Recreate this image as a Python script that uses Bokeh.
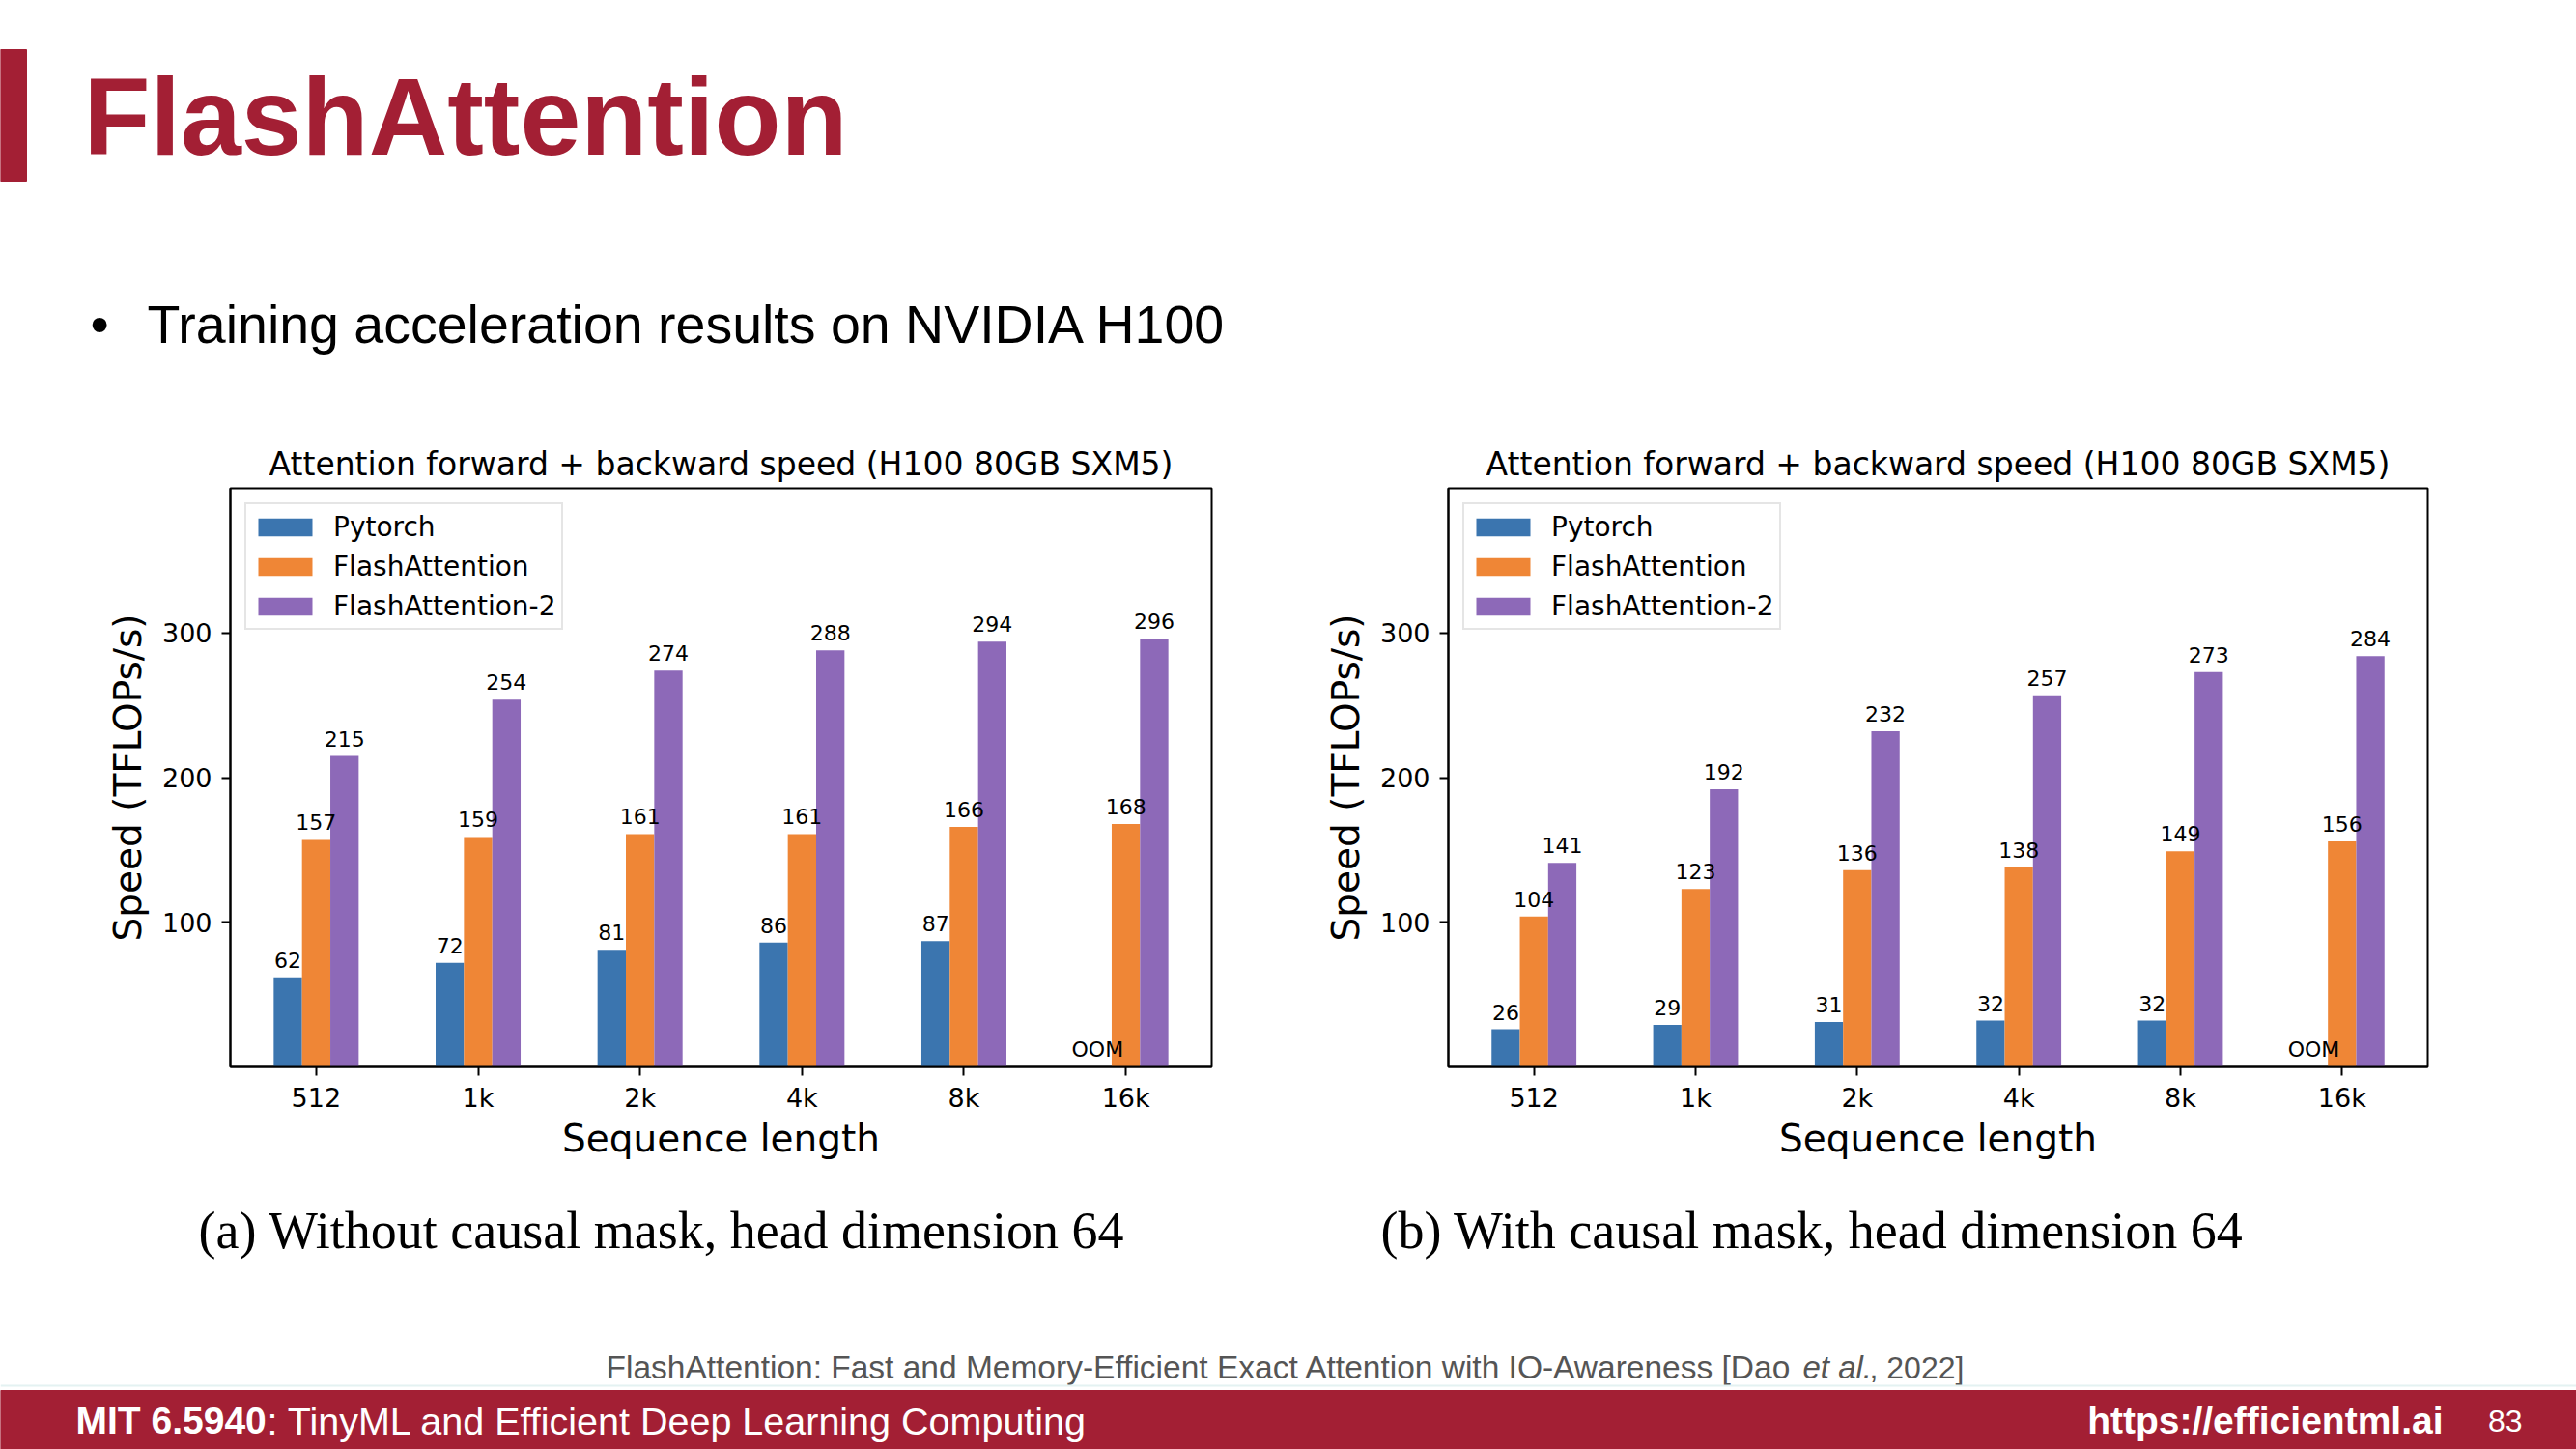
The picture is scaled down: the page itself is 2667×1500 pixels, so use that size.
import numpy as np
from bokeh.core.properties import value
from bokeh.embed import file_html
from bokeh.layouts import column, row
from bokeh.models import ColumnDataSource, FactorRange, Range1d, FixedTicker, Legend, LegendItem
from bokeh.plotting import figure
from bokeh.resources import INLINE
from bokeh.transform import dodge

# ---------------------------------------------------------------- data
seq_lengths = ["512", "1k", "2k", "4k", "8k", "16k"]
series_names = ["Pytorch", "FlashAttention", "FlashAttention-2"]
y_ticks = [100, 200, 300]

# (a) without causal mask (None = out of memory)
a_pytorch = [62, 72, 81, 86, 87, None]
a_flash = [157, 159, 161, 161, 166, 168]
a_flash2 = [215, 254, 274, 288, 294, 296]

# (b) with causal mask
b_pytorch = [26, 29, 31, 32, 32, None]
b_flash = [104, 123, 136, 138, 149, 156]
b_flash2 = [141, 192, 232, 257, 273, 284]

chart_title = "Attention forward + backward speed (H100 80GB SXM5)"
caption_a = "(a) Without causal mask, head dimension 64"
caption_b = "(b) With causal mask, head dimension 64"

# --------------------------------------------------------------- style
MIT_RED = "#a31f34"
colors = ["#3b75af", "#ef8636", "#8d69b8"]
offsets = [-0.175, 0.0, 0.175]
MPL = "DejaVu Sans"
SANS = "Liberation Sans"


def base(y, size):
    """text y for a wanted baseline (bokeh puts the text a bit lower)"""
    return y - 0.35 * size


def speed_chart(pytorch, flash, flash2, width, left, right):
    """Grouped bar chart of one panel"""
    p = figure(
        x_range=FactorRange(*seq_lengths, range_padding=0.01),
        y_range=Range1d(0, 400),
        width=width, height=810,
        title=chart_title,
        output_backend="svg", toolbar_location=None,
        min_border_left=left, min_border_right=right,
        min_border_top=85, min_border_bottom=126,
    )
    items, sources = [], []
    for name, vals, off, col in zip(series_names, [pytorch, flash, flash2], offsets, colors):
        src = ColumnDataSource(dict(
            seq=seq_lengths,
            top=[np.nan if v is None else v for v in vals],
            ly=[0 if v is None else v for v in vals],
            label=["OOM" if v is None else str(v) for v in vals],
        ))
        r = p.vbar(x=dodge("seq", off, range=p.x_range), top="top", width=0.175,
                   source=src, fill_color=col, line_color=None)
        items.append(LegendItem(label=name, renderers=[r]))
        sources.append((src, off))

    # value labels on top of every bar
    for src, off in sources:
        p.text(x=dodge("seq", off, range=p.x_range), y="ly", text="label", source=src,
               text_align="center", text_baseline="alphabetic", y_offset=-18,
               text_font=value(MPL), text_font_size="22px", text_color="black")

    legend = Legend(
        items=items, location="top_left", margin=15, padding=5, spacing=5,
        label_height=36, glyph_width=70, glyph_height=23, label_standoff=15,
        label_text_font=MPL, label_text_font_size="28px", label_text_color="black",
        border_line_color="#cccccc", border_line_width=2,
        background_fill_alpha=0.8,
    )
    p.add_layout(legend)

    p.title.text_font = MPL
    p.title.text_font_style = "normal"
    p.title.text_font_size = "33px"
    p.title.text_color = "black"
    p.title.align = "center"
    p.title.standoff = 12

    p.grid.visible = False
    p.outline_line_color = "black"
    p.outline_line_width = 2
    p.yaxis.ticker = FixedTicker(ticks=y_ticks)
    p.yaxis.axis_label = "Speed (TFLOPs/s)"
    p.xaxis.axis_label = "Sequence length"
    for ax in (p.xaxis, p.yaxis):
        ax.axis_line_color = "black"
        ax.axis_line_width = 2
        ax.major_tick_out = 9
        ax.major_tick_in = 0
        ax.major_tick_line_width = 2
        ax.minor_tick_line_color = None
        ax.major_label_text_font = MPL
        ax.major_label_text_font_size = "27px"
        ax.major_label_text_color = "black"
        ax.axis_label_text_font = MPL
        ax.axis_label_text_font_size = "39px"
        ax.axis_label_text_font_style = "normal"
        ax.axis_label_text_color = "black"
    p.yaxis.major_label_standoff = 10
    p.yaxis.axis_label_standoff = 10
    p.xaxis.major_label_standoff = 7
    p.xaxis.axis_label_standoff = 1
    return p


def canvas(height, top, bottom):
    """Plain drawing area in page pixels"""
    c = figure(width=2667, height=height, x_range=Range1d(0, 2667), y_range=Range1d(bottom, top),
               output_backend="svg", toolbar_location=None, min_border=0,
               x_axis_location=None, y_axis_location=None, outline_line_color=None)
    c.grid.visible = False
    return c


# -------------------------------------------------------------- header
head = canvas(420, 0, 420)
head.quad(left=[0], right=[27], top=[51], bottom=[187], color=MIT_RED)
head.text(x=[86], y=[base(160, 113)], text=["FlashAttention"], text_font=value(SANS),
          text_font_style="bold", text_font_size="113px", text_color=MIT_RED,
          text_baseline="alphabetic")
head.text(x=[93], y=[base(355, 55)], text=["•"], text_font=value(SANS), text_font_size="55px",
          text_color="black", text_baseline="alphabetic")
head.text(x=[152], y=[base(355, 55)], text=["Training acceleration results on NVIDIA H100"],
          text_font=value(SANS), text_font_size="55.5px", text_color="black",
          text_baseline="alphabetic")

# -------------------------------------------------------------- charts
chart_a = speed_chart(a_pytorch, a_flash, a_flash2, 1360, 238, 106)
chart_b = speed_chart(b_pytorch, b_flash, b_flash2, 1307, 139, 154)

# -------------------------------------------------------------- footer
foot = canvas(270, 1230, 1500)
foot.text(x=[205, 1429], y=[base(1292, 54)] * 2, text=[caption_a, caption_b],
          text_font=value("Liberation Serif"), text_font_size="54px", text_color="black",
          text_baseline="alphabetic")
cy = base(1427, 34)
foot.text(x=[627], y=[cy],
          text=["FlashAttention: Fast and Memory-Efficient Exact Attention with IO-Awareness [Dao"],
          text_font=value(SANS), text_font_size="33.5px", text_color="#555555",
          text_baseline="alphabetic")
foot.text(x=[1866], y=[cy], text=["et al."], text_font=value(SANS), text_font_style="italic",
          text_font_size="33px", text_color="#555555", text_baseline="alphabetic")
foot.text(x=[1935], y=[cy], text=[", 2022]"], text_font=value(SANS),
          text_font_size="32px", text_color="#555555", text_baseline="alphabetic")
foot.segment(x0=[0], x1=[2667], y0=[1434], y1=[1434], line_color="#e4f2f2", line_width=2)
foot.quad(left=[0], right=[2667], top=[1439], bottom=[1500], color=MIT_RED)
fy = base(1484, 39)
foot.text(x=[78], y=[fy], text=["MIT 6.5940"], text_font=value(SANS), text_font_style="bold",
          text_font_size="39px", text_color="white", text_baseline="alphabetic")
foot.text(x=[276], y=[fy], text=[": TinyML and Efficient Deep Learning Computing"],
          text_font=value(SANS), text_font_size="39.5px", text_color="white",
          text_baseline="alphabetic")
foot.text(x=[2529], y=[fy], text=["https://efficientml.ai"], text_font=value(SANS),
          text_font_style="bold", text_font_size="39px", text_color="white",
          text_align="right", text_baseline="alphabetic")
foot.text(x=[2611], y=[fy], text=["83"], text_font=value(SANS), text_font_size="32px",
          text_color="white", text_align="right", text_baseline="alphabetic")

page = column(head, row(chart_a, chart_b), foot)
open("out.html", "w").write(file_html(page, INLINE))
